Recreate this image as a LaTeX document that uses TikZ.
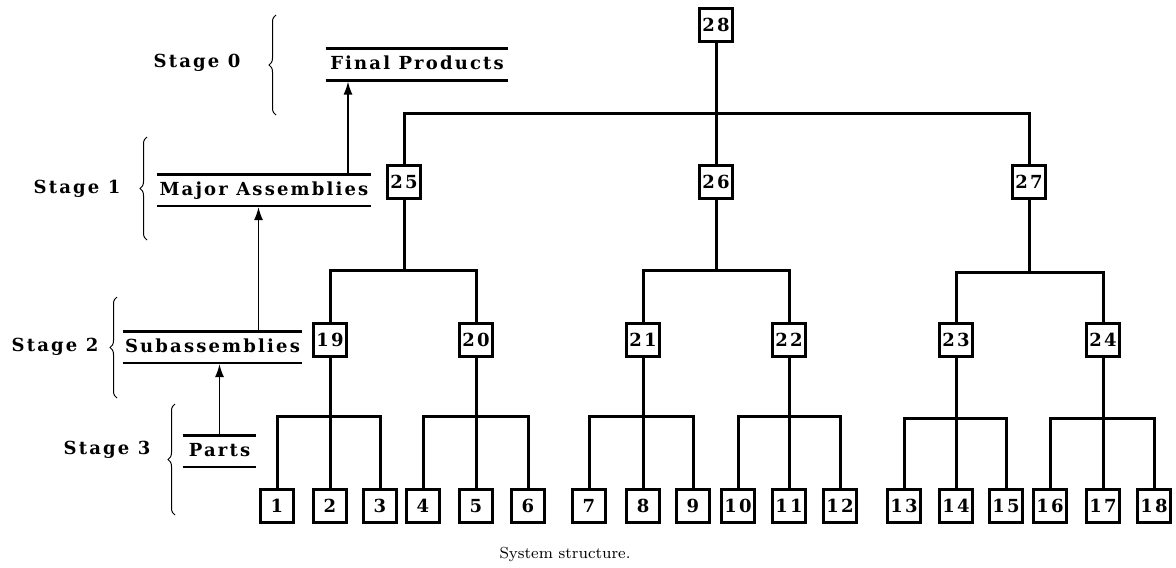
\documentclass[tikz,border=0pt]{standalone}
\usepackage{fontspec}
\usetikzlibrary{arrows.meta,decorations.pathreplacing}
\newfontfamily\stagefont{DejaVu Serif}[LetterSpace=12]

\begin{document}
\begin{tikzpicture}[x=0.5pt,y=-0.5pt,
  box/.style={draw, line width=1.2pt, minimum width=16.5pt, minimum height=16.5pt, inner sep=0pt, font=\stagefont\bfseries\small},
  tree/.style={line width=1.5pt},
  level/.style={inner xsep=0pt, inner ysep=3.25pt, text height=7pt, text depth=2pt, font=\stagefont\bfseries\small},
  rule/.style={line width=1.4pt},
  up/.style={line width=0.7pt, shorten >=0.6pt, -{Latex[length=6.5pt,width=4.5pt]}},
  stagebrace/.style={decorate, decoration={brace, amplitude=3.5pt}, line width=0.5pt}]
  \useasboundingbox (0,0) rectangle (1176,567);

  \node[box] (n28) at (716,25) {28};
  \foreach \n/\x in {25/404,26/716,27/1029} \node[box] (n\n) at (\x,182) {\n};
  \foreach \n/\x in {19/330,20/476,21/643,22/789,23/956,24/1103} \node[box] (n\n) at (\x,340) {\n};
  \foreach \n/\x in {1/277,2/330,3/380,4/423,5/476,6/528,7/589,8/643,9/693,10/738,11/789,12/840,13/904,14/956,15/1006,16/1050,17/1103,18/1154}
    \node[box] (n\n) at (\x,506) {\n};

  \foreach \p/\x/\y in {28/716/113, 25/404/270, 26/716/270, 27/1029/272, 19/330/416, 20/476/416, 21/643/416, 22/789/416, 23/956/418, 24/1103/418}
    \coordinate (b\p) at (\x,\y);
  \foreach \p/\kids in {28/{25,26,27}, 25/{19,20}, 26/{21,22}, 27/{23,24}, 19/{1,2,3}, 20/{4,5,6}, 21/{7,8,9}, 22/{10,11,12}, 23/{13,14,15}, 24/{16,17,18}} {
    \draw[tree] (n\p) -- (b\p);
    \foreach \c in \kids \draw[tree] (b\p) -| (n\c);
  }

  \node[level, minimum width=91pt] (final) at (417,64.5) {Final Products};
  \node[level, minimum width=107pt] (major) at (264,190) {Major Assemblies};
  \node[level, minimum width=89.5pt] (subs) at (212.5,347) {Subassemblies};
  \node[level, minimum width=36.5pt] (parts) at (219.5,451) {Parts};
  \foreach \lv in {final,major,subs,parts} {
    \draw[rule] (\lv.north west) -- (\lv.north east);
    \draw[rule] (\lv.south west) -- (\lv.south east);
  }

  \coordinate (a1) at ([xshift=42pt]major.north);
  \coordinate (a2) at ([xshift=23pt]subs.north);
  \draw[up] (a1) -- (a1 |- final.south);
  \draw[up] (a2) -- (a2 |- major.south);
  \draw[up] (parts.north) -- (parts.north |- subs.south);

  \foreach \s/\x/\y/\top/\bot/\bx in {0/197/63/15/115/276, 1/77/189/137/240/147, 2/55/347/297/398/117, 3/107/450/404/515/175} {
    \node[font=\stagefont\bfseries\small] (s\s) at (\x,\y) {Stage \s};
    \draw[stagebrace] (\bx,\bot) -- (\bx,\top);
  }

  \node[font=\fontsize{8}{10}\selectfont] (caption) at (565,554) {System structure.};
\end{tikzpicture}
\end{document}
